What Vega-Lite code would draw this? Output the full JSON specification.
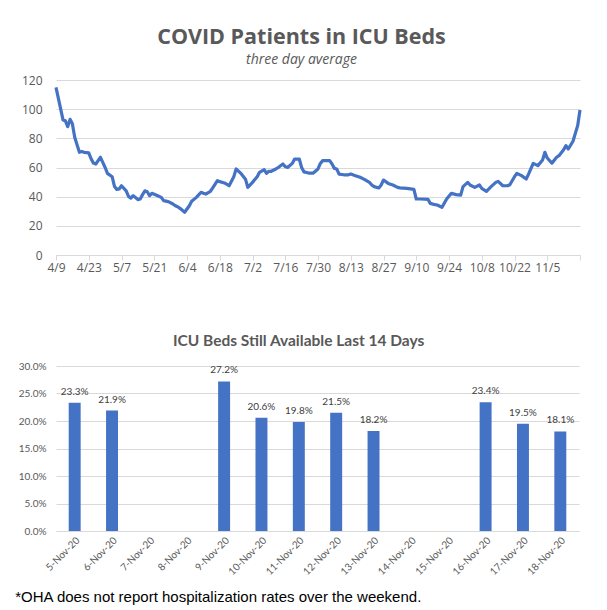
{
  "$schema": "https://vega.github.io/schema/vega-lite/v6.json",
  "background": "white",
  "padding": {"left": 15, "top": 26, "right": 5, "bottom": 0},
  "spacing": 60,
  "config": {"view": {"stroke": null}, "font": "Open Sans"},
  "title": {"text": "*OHA does not report hospitalization rates over the weekend.", "orient": "bottom", "anchor": "start", "frame": "bounds", "font": "Liberation Sans", "fontSize": 15, "fontWeight": "normal", "color": "#000000", "offset": 13, "dx": -3},
  "vconcat": [
    {
      "width": 524,
      "height": 175,
      "title": {"text": "COVID Patients in ICU Beds", "subtitle": "three day average", "font": "Open Sans", "fontSize": 21.5, "fontWeight": "bold", "color": "#595959", "subtitleFont": "Open Sans", "subtitleFontSize": 14, "subtitleFontStyle": "italic", "subtitleColor": "#595959", "subtitlePadding": 5, "anchor": "middle", "frame": "bounds", "offset": 7},
      "data": {"values": [
        {"date": "2020-04-09", "patients": 115},
        {"date": "2020-04-12", "patients": 92.6},
        {"date": "2020-04-13", "patients": 92},
        {"date": "2020-04-14", "patients": 88},
        {"date": "2020-04-15", "patients": 93},
        {"date": "2020-04-16", "patients": 90},
        {"date": "2020-04-17", "patients": 80.7},
        {"date": "2020-04-19", "patients": 70.4},
        {"date": "2020-04-20", "patients": 71},
        {"date": "2020-04-21", "patients": 70.4},
        {"date": "2020-04-23", "patients": 70},
        {"date": "2020-04-24", "patients": 66},
        {"date": "2020-04-25", "patients": 63},
        {"date": "2020-04-26", "patients": 62.4},
        {"date": "2020-04-28", "patients": 67},
        {"date": "2020-04-29", "patients": 63.5},
        {"date": "2020-04-30", "patients": 60},
        {"date": "2020-05-01", "patients": 56},
        {"date": "2020-05-03", "patients": 53.7},
        {"date": "2020-05-04", "patients": 47},
        {"date": "2020-05-05", "patients": 45},
        {"date": "2020-05-06", "patients": 45.3},
        {"date": "2020-05-07", "patients": 47.5},
        {"date": "2020-05-09", "patients": 44},
        {"date": "2020-05-10", "patients": 40.2},
        {"date": "2020-05-11", "patients": 39},
        {"date": "2020-05-12", "patients": 40.7},
        {"date": "2020-05-14", "patients": 38},
        {"date": "2020-05-15", "patients": 38.4},
        {"date": "2020-05-16", "patients": 41.4},
        {"date": "2020-05-17", "patients": 44},
        {"date": "2020-05-18", "patients": 43.4},
        {"date": "2020-05-19", "patients": 40.7},
        {"date": "2020-05-20", "patients": 42.3},
        {"date": "2020-05-22", "patients": 41},
        {"date": "2020-05-24", "patients": 39.5},
        {"date": "2020-05-25", "patients": 37.3},
        {"date": "2020-05-27", "patients": 36.6},
        {"date": "2020-05-29", "patients": 35},
        {"date": "2020-05-30", "patients": 33.8},
        {"date": "2020-05-31", "patients": 33.1},
        {"date": "2020-06-01", "patients": 32},
        {"date": "2020-06-03", "patients": 29.3},
        {"date": "2020-06-05", "patients": 33.8},
        {"date": "2020-06-06", "patients": 36.8},
        {"date": "2020-06-08", "patients": 39.5},
        {"date": "2020-06-10", "patients": 43},
        {"date": "2020-06-11", "patients": 42.3},
        {"date": "2020-06-12", "patients": 41.8},
        {"date": "2020-06-14", "patients": 43.7},
        {"date": "2020-06-15", "patients": 46},
        {"date": "2020-06-17", "patients": 51},
        {"date": "2020-06-18", "patients": 50.3},
        {"date": "2020-06-20", "patients": 49.4},
        {"date": "2020-06-22", "patients": 47.5},
        {"date": "2020-06-24", "patients": 53.7},
        {"date": "2020-06-25", "patients": 59},
        {"date": "2020-06-27", "patients": 56},
        {"date": "2020-06-29", "patients": 52},
        {"date": "2020-06-30", "patients": 46.4},
        {"date": "2020-07-02", "patients": 49.8},
        {"date": "2020-07-04", "patients": 53.7},
        {"date": "2020-07-05", "patients": 56.7},
        {"date": "2020-07-07", "patients": 58.5},
        {"date": "2020-07-08", "patients": 56},
        {"date": "2020-07-09", "patients": 57.4},
        {"date": "2020-07-10", "patients": 57.4},
        {"date": "2020-07-12", "patients": 59},
        {"date": "2020-07-13", "patients": 60},
        {"date": "2020-07-15", "patients": 62.4},
        {"date": "2020-07-16", "patients": 60.6},
        {"date": "2020-07-17", "patients": 60},
        {"date": "2020-07-19", "patients": 62.8},
        {"date": "2020-07-20", "patients": 65.8},
        {"date": "2020-07-22", "patients": 65.8},
        {"date": "2020-07-23", "patients": 60},
        {"date": "2020-07-24", "patients": 57},
        {"date": "2020-07-26", "patients": 56.2},
        {"date": "2020-07-28", "patients": 56.2},
        {"date": "2020-07-30", "patients": 59},
        {"date": "2020-07-31", "patients": 62.8},
        {"date": "2020-08-01", "patients": 64.7},
        {"date": "2020-08-04", "patients": 64.7},
        {"date": "2020-08-05", "patients": 62.4},
        {"date": "2020-08-06", "patients": 59.4},
        {"date": "2020-08-07", "patients": 59},
        {"date": "2020-08-08", "patients": 55.5},
        {"date": "2020-08-10", "patients": 55},
        {"date": "2020-08-12", "patients": 55},
        {"date": "2020-08-13", "patients": 55.5},
        {"date": "2020-08-15", "patients": 54.4},
        {"date": "2020-08-17", "patients": 53.3},
        {"date": "2020-08-19", "patients": 51.7},
        {"date": "2020-08-21", "patients": 49.8},
        {"date": "2020-08-22", "patients": 48},
        {"date": "2020-08-23", "patients": 46.9},
        {"date": "2020-08-25", "patients": 46},
        {"date": "2020-08-26", "patients": 48},
        {"date": "2020-08-27", "patients": 51.4},
        {"date": "2020-08-29", "patients": 49.1},
        {"date": "2020-08-31", "patients": 48},
        {"date": "2020-09-02", "patients": 46.4},
        {"date": "2020-09-03", "patients": 46},
        {"date": "2020-09-06", "patients": 45.7},
        {"date": "2020-09-09", "patients": 45},
        {"date": "2020-09-10", "patients": 38.4},
        {"date": "2020-09-12", "patients": 38.4},
        {"date": "2020-09-15", "patients": 38.2},
        {"date": "2020-09-16", "patients": 35.4},
        {"date": "2020-09-18", "patients": 34.5},
        {"date": "2020-09-19", "patients": 34.3},
        {"date": "2020-09-21", "patients": 32.7},
        {"date": "2020-09-23", "patients": 38.4},
        {"date": "2020-09-25", "patients": 42.3},
        {"date": "2020-09-27", "patients": 41.4},
        {"date": "2020-09-29", "patients": 41.1},
        {"date": "2020-09-30", "patients": 46.9},
        {"date": "2020-10-02", "patients": 49.8},
        {"date": "2020-10-03", "patients": 48},
        {"date": "2020-10-05", "patients": 46.4},
        {"date": "2020-10-07", "patients": 48},
        {"date": "2020-10-08", "patients": 45.7},
        {"date": "2020-10-10", "patients": 43.7},
        {"date": "2020-10-12", "patients": 46.9},
        {"date": "2020-10-14", "patients": 49.8},
        {"date": "2020-10-15", "patients": 50.5},
        {"date": "2020-10-17", "patients": 47.5},
        {"date": "2020-10-19", "patients": 47.5},
        {"date": "2020-10-20", "patients": 48.2},
        {"date": "2020-10-22", "patients": 53.7},
        {"date": "2020-10-23", "patients": 56},
        {"date": "2020-10-25", "patients": 54.4},
        {"date": "2020-10-27", "patients": 52.1},
        {"date": "2020-10-28", "patients": 55.5},
        {"date": "2020-10-30", "patients": 62.8},
        {"date": "2020-11-01", "patients": 61.3},
        {"date": "2020-11-03", "patients": 65.1},
        {"date": "2020-11-04", "patients": 70.4},
        {"date": "2020-11-05", "patients": 66.5},
        {"date": "2020-11-07", "patients": 63},
        {"date": "2020-11-09", "patients": 67},
        {"date": "2020-11-10", "patients": 68.1},
        {"date": "2020-11-12", "patients": 72.2},
        {"date": "2020-11-13", "patients": 75},
        {"date": "2020-11-14", "patients": 72.7},
        {"date": "2020-11-16", "patients": 78},
        {"date": "2020-11-18", "patients": 88.7},
        {"date": "2020-11-19", "patients": 99.4}
      ]},
      "mark": {"type": "line", "color": "#4472C4", "strokeWidth": 3.2, "strokeJoin": "round"},
      "encoding": {
        "x": {
          "field": "date", "type": "temporal",
          "scale": {"type": "utc", "domain": [{"year": 2020, "month": 4, "date": 9, "utc": true}, {"year": 2020, "month": 11, "date": 19, "utc": true}]},
          "axis": {
            "title": null, "grid": false, "format": "%-m/%-d",
            "values": [
              {"year": 2020, "month": 4, "date": 9, "utc": true},
              {"year": 2020, "month": 4, "date": 23, "utc": true},
              {"year": 2020, "month": 5, "date": 7, "utc": true},
              {"year": 2020, "month": 5, "date": 21, "utc": true},
              {"year": 2020, "month": 6, "date": 4, "utc": true},
              {"year": 2020, "month": 6, "date": 18, "utc": true},
              {"year": 2020, "month": 7, "date": 2, "utc": true},
              {"year": 2020, "month": 7, "date": 16, "utc": true},
              {"year": 2020, "month": 7, "date": 30, "utc": true},
              {"year": 2020, "month": 8, "date": 13, "utc": true},
              {"year": 2020, "month": 8, "date": 27, "utc": true},
              {"year": 2020, "month": 9, "date": 10, "utc": true},
              {"year": 2020, "month": 9, "date": 24, "utc": true},
              {"year": 2020, "month": 10, "date": 8, "utc": true},
              {"year": 2020, "month": 10, "date": 22, "utc": true},
              {"year": 2020, "month": 11, "date": 5, "utc": true},
              {"year": 2020, "month": 11, "date": 19, "utc": true}
            ],
            "labelExpr": "utcmonth(datum.value) == 10 && utcdate(datum.value) == 19 ? '' : datum.label",
            "domainColor": "#d9d9d9", "tickColor": "#d9d9d9", "tickSize": 5,
            "labelFont": "Open Sans", "labelFontSize": 12, "labelColor": "#595959", "labelPadding": 2, "labelFlush": false, "labelOverlap": false
          }
        },
        "y": {
          "field": "patients", "type": "quantitative",
          "scale": {"domain": [0, 120]},
          "axis": {
            "title": null, "values": [0, 20, 40, 60, 80, 100, 120],
            "domain": false, "ticks": false, "gridColor": "#d9d9d9",
            "labelFont": "Open Sans", "labelFontSize": 12, "labelColor": "#595959", "labelPadding": 14
          }
        }
      }
    },
    {
      "width": 523,
      "height": 165,
      "title": {"text": "ICU Beds Still Available Last 14 Days", "font": "Lato", "fontSize": 15.5, "fontWeight": "bold", "color": "#595959", "anchor": "middle", "frame": "bounds", "offset": 12},
      "data": {"values": [
        {"day": "5-Nov-20", "available": 0.233},
        {"day": "6-Nov-20", "available": 0.219},
        {"day": "9-Nov-20", "available": 0.272},
        {"day": "10-Nov-20", "available": 0.206},
        {"day": "11-Nov-20", "available": 0.198},
        {"day": "12-Nov-20", "available": 0.215},
        {"day": "13-Nov-20", "available": 0.182},
        {"day": "16-Nov-20", "available": 0.234},
        {"day": "17-Nov-20", "available": 0.195},
        {"day": "18-Nov-20", "available": 0.181}
      ]},
      "encoding": {
        "x": {
          "field": "day", "type": "nominal", "sort": null,
          "scale": {"domain": ["5-Nov-20", "6-Nov-20", "7-Nov-20", "8-Nov-20", "9-Nov-20", "10-Nov-20", "11-Nov-20", "12-Nov-20", "13-Nov-20", "14-Nov-20", "15-Nov-20", "16-Nov-20", "17-Nov-20", "18-Nov-20"], "paddingInner": 0.68, "paddingOuter": 0.34},
          "axis": {"title": null, "labelAngle": -45, "ticks": false, "domainColor": "#d9d9d9", "labelFont": "Lato", "labelFontSize": 10, "labelColor": "#595959", "labelPadding": 4}
        },
        "y": {
          "field": "available", "type": "quantitative",
          "scale": {"domain": [0, 0.3]},
          "axis": {"title": null, "format": ".1%", "values": [0, 0.05, 0.1, 0.15, 0.2, 0.25, 0.3], "domain": false, "ticks": false, "gridColor": "#d9d9d9", "labelFont": "Lato", "labelFontSize": 10, "labelColor": "#595959", "labelPadding": 10}
        }
      },
      "layer": [
        {"mark": {"type": "bar", "color": "#4472C4"}},
        {"mark": {"type": "text", "baseline": "bottom", "dy": -6, "font": "Lato", "fontSize": 10, "color": "#404040"}, "encoding": {"text": {"field": "available", "type": "quantitative", "format": ".1%"}}}
      ]
    }
  ]
}
